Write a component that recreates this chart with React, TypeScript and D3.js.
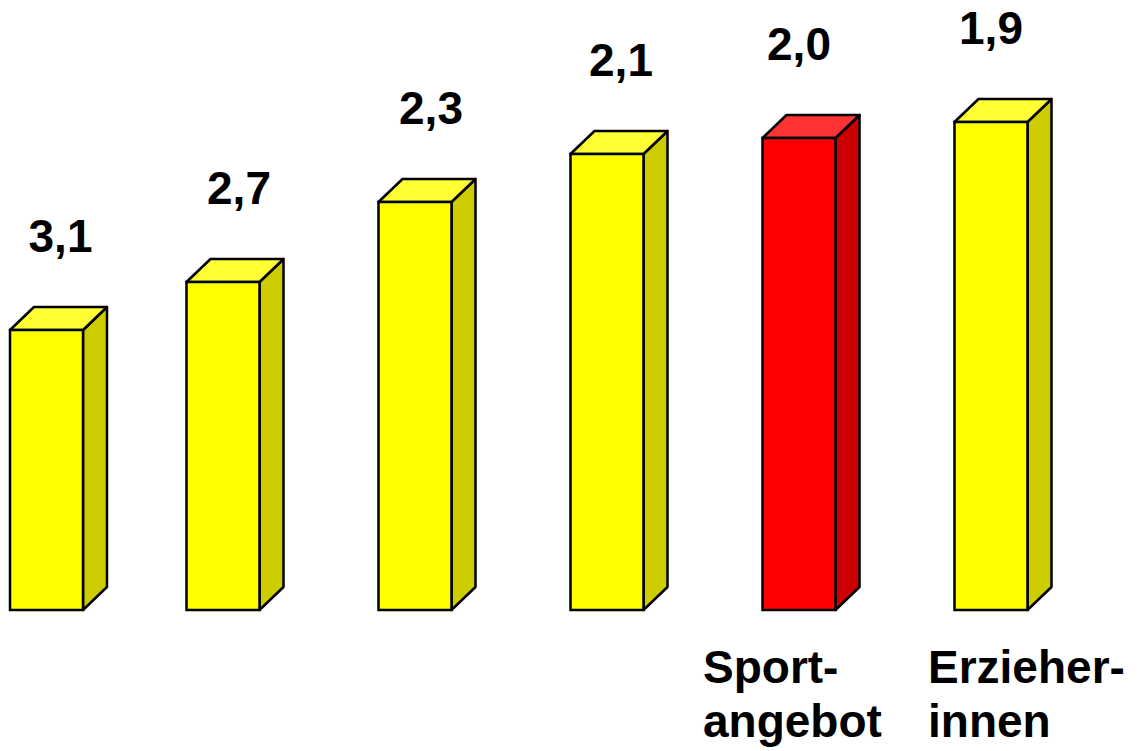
import React from "react";
import * as d3 from "d3";

// Data
const categories = ["A", "B", "C", "D", "Sportangebot", "ErzieherInnen"];
const grades = [3.1, 2.7, 2.3, 2.1, 2.0, 1.9];
// bar heights (arbitrary level units)
const barLevels = [2.8, 3.28, 4.08, 4.56, 4.72, 4.88];
const highlight = [false, false, false, false, true, false];
const categoryLabels: string[][] = [[], [], [], [], ["Sport-", "angebot"], ["Erzieher-", "innen"]];

// Layout
const W = 1140;
const H = 751;
const baseY = 610;
const barW = 73;
const depthX = 24;
const depthY = 23;
const firstBarNudge = 15.5;
const labelDx = [0, 0, 0, 0, -96, -63];
const valueDx = [14, 16, 16, 14, 0, 0];
const fontFamily = "'Liberation Sans', Arial, Helvetica, sans-serif";

const colors = {
  yellow: { front: "#FFFF00", top: "#FFFF33", side: "#CCCC00" },
  red: { front: "#FF0000", top: "#FF3333", side: "#CC0000" },
};

export default function App() {
  const x = d3.scaleLinear().domain([1, 5]).range([223, 991]);
  const y = d3.scaleLinear().domain([0, 5]).range([baseY, 110]);
  const fmt = (v: number) => d3.format(".1f")(v).replace(".", ",");

  return (
    <svg
      width={W}
      height={H}
      style={{ position: "absolute", left: 0, top: 0, background: "#fff" }}
    >
      {categories.map((c, i) => {
        const cx = x(i) + (i === 0 ? firstBarNudge : 0);
        const xl = cx - barW / 2;
        const xr = cx + barW / 2;
        const top = y(barLevels[i]);
        const col = highlight[i] ? colors.red : colors.yellow;
        const sidePts = [
          [xr, baseY],
          [xr + depthX, baseY - depthY],
          [xr + depthX, top - depthY],
          [xr, top],
        ];
        const topPts = [
          [xl, top],
          [xl + depthX, top - depthY],
          [xr + depthX, top - depthY],
          [xr, top],
        ];
        const pts = (p: number[][]) => p.map((q) => q.join(",")).join(" ");
        return (
          <g key={c}>
            <polygon points={pts(sidePts)} fill={col.side} stroke="#000" strokeWidth={2.5} strokeLinejoin="round" />
            <polygon points={pts(topPts)} fill={col.top} stroke="#000" strokeWidth={2.5} strokeLinejoin="round" />
            <rect x={xl} y={top} width={barW} height={baseY - top} fill={col.front} stroke="#000" strokeWidth={2.5} />
            <text
              x={cx + valueDx[i]}
              y={top - depthY - 55}
              textAnchor="middle"
              fontFamily={fontFamily}
              fontWeight="bold"
              fontSize={46}
              fill="#000"
            >
              {fmt(grades[i])}
            </text>
            {categoryLabels[i].map((line, j) => (
              <text
                key={j}
                x={cx + labelDx[i]}
                y={683 + j * 54}
                textAnchor="start"
                fontFamily={fontFamily}
                fontWeight="bold"
                fontSize={46}
                fill="#000"
              >
                {line}
              </text>
            ))}
          </g>
        );
      })}
    </svg>
  );
}
